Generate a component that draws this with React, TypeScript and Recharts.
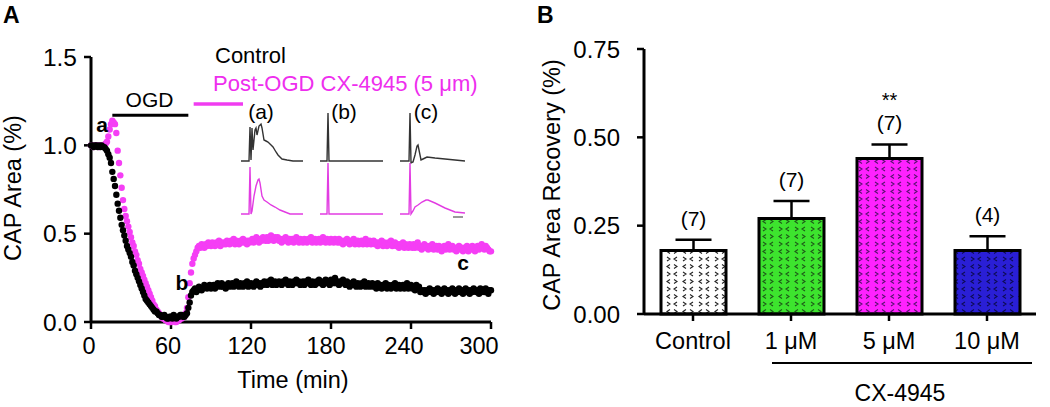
import React from 'react';
import {
  ScatterChart, Scatter, XAxis, YAxis, ReferenceLine,
  LineChart, Line, BarChart, Bar, ErrorBar, LabelList, Cell,
} from 'recharts';

const FONT = '"Liberation Sans", Arial, Helvetica, sans-serif';

// ---------- Panel A: CAP area time course (sampled every 1 min, 0..300) ----------
const SAMPLE_STEP_MIN = 1;
const CONTROL_CAP = [
  1.00, 1.00, 0.99, 1.00, 1.00, 0.99, 1.00, 0.99, 1.00, 0.99,
  0.99, 0.98, 0.97, 0.95, 0.93, 0.90, 0.85, 0.81, 0.77, 0.72,
  0.67, 0.63, 0.59, 0.55, 0.52, 0.49, 0.46, 0.43, 0.41, 0.39,
  0.37, 0.34, 0.32, 0.29, 0.27, 0.25, 0.23, 0.21, 0.19, 0.17,
  0.15, 0.13, 0.12, 0.11, 0.10, 0.09, 0.08, 0.07, 0.06, 0.06,
  0.05, 0.04, 0.04, 0.03, 0.03, 0.04, 0.03, 0.02, 0.02, 0.03,
  0.03, 0.02, 0.04, 0.03, 0.02, 0.03, 0.03, 0.04, 0.04, 0.03,
  0.03, 0.04, 0.05, 0.08, 0.11, 0.15, 0.17, 0.18, 0.19, 0.17,
  0.18, 0.20, 0.19, 0.18, 0.19, 0.21, 0.20, 0.19, 0.20, 0.21,
  0.19, 0.20, 0.21, 0.19, 0.20, 0.22, 0.21, 0.20, 0.22, 0.20,
  0.21, 0.19, 0.21, 0.22, 0.20, 0.21, 0.22, 0.20, 0.21, 0.23,
  0.21, 0.20, 0.22, 0.21, 0.20, 0.22, 0.21, 0.23, 0.20, 0.21,
  0.22, 0.21, 0.20, 0.22, 0.23, 0.21, 0.22, 0.20, 0.22, 0.21,
  0.23, 0.22, 0.21, 0.23, 0.22, 0.24, 0.21, 0.22, 0.23, 0.21,
  0.22, 0.23, 0.22, 0.21, 0.23, 0.22, 0.24, 0.22, 0.21, 0.23,
  0.22, 0.21, 0.23, 0.22, 0.24, 0.22, 0.23, 0.21, 0.22, 0.23,
  0.21, 0.23, 0.22, 0.24, 0.22, 0.21, 0.23, 0.22, 0.21, 0.23,
  0.22, 0.24, 0.22, 0.23, 0.21, 0.22, 0.24, 0.22, 0.23, 0.21,
  0.24, 0.23, 0.22, 0.25, 0.22, 0.23, 0.21, 0.23, 0.22, 0.24,
  0.22, 0.21, 0.23, 0.22, 0.20, 0.22, 0.21, 0.23, 0.21, 0.20,
  0.22, 0.21, 0.20, 0.22, 0.21, 0.23, 0.20, 0.21, 0.22, 0.20,
  0.21, 0.22, 0.20, 0.21, 0.19, 0.22, 0.20, 0.21, 0.19, 0.21,
  0.20, 0.22, 0.19, 0.21, 0.20, 0.19, 0.21, 0.20, 0.22, 0.19,
  0.20, 0.21, 0.19, 0.20, 0.21, 0.19, 0.20, 0.22, 0.19, 0.20,
  0.21, 0.19, 0.20, 0.18, 0.21, 0.19, 0.20, 0.17, 0.18, 0.17,
  0.18, 0.16, 0.18, 0.17, 0.19, 0.17, 0.18, 0.16, 0.18, 0.17,
  0.19, 0.17, 0.18, 0.16, 0.18, 0.19, 0.17, 0.18, 0.16, 0.18,
  0.17, 0.19, 0.18, 0.16, 0.18, 0.17, 0.19, 0.17, 0.18, 0.16,
  0.18, 0.19, 0.17, 0.18, 0.16, 0.18, 0.17, 0.19, 0.18, 0.17,
  0.18, 0.16, 0.19, 0.17, 0.18, 0.17, 0.19, 0.18, 0.16, 0.18,
  0.18,
];
const CX4945_CAP = [
  1.00, 1.00, 0.99, 1.00, 1.00, 1.00, 0.99, 1.00, 1.00, 1.00,
  1.00, 1.01, 1.02, 1.05, 1.09, 1.12, 1.14, 1.13, 1.12, 1.07,
  0.97, 0.90, 0.83, 0.76, 0.69, 0.64, 0.60, 0.57, 0.54, 0.51,
  0.48, 0.45, 0.43, 0.40, 0.38, 0.35, 0.33, 0.30, 0.28, 0.26,
  0.24, 0.22, 0.20, 0.18, 0.16, 0.14, 0.12, 0.10, 0.09, 0.07,
  0.06, 0.05, 0.04, 0.03, 0.02, 0.02, 0.01, 0.01, 0.00, 0.00,
  0.00, 0.01, 0.01, 0.00, 0.00, 0.01, 0.01, 0.02, 0.02, 0.03,
  0.03, 0.05, 0.08, 0.14, 0.22, 0.28, 0.33, 0.36, 0.38, 0.40,
  0.42, 0.43, 0.42, 0.44, 0.43, 0.42, 0.44, 0.43, 0.45, 0.44,
  0.43, 0.45, 0.44, 0.43, 0.45, 0.44, 0.46, 0.43, 0.45, 0.44,
  0.45, 0.44, 0.46, 0.45, 0.44, 0.46, 0.45, 0.47, 0.44, 0.46,
  0.45, 0.44, 0.46, 0.45, 0.47, 0.45, 0.46, 0.44, 0.46, 0.45,
  0.46, 0.47, 0.45, 0.46, 0.48, 0.46, 0.45, 0.47, 0.46, 0.48,
  0.47, 0.46, 0.48, 0.46, 0.47, 0.49, 0.47, 0.46, 0.48, 0.47,
  0.48, 0.46, 0.47, 0.45, 0.47, 0.46, 0.48, 0.46, 0.45, 0.47,
  0.46, 0.47, 0.45, 0.46, 0.48, 0.46, 0.45, 0.47, 0.46, 0.45,
  0.47, 0.46, 0.45, 0.47, 0.46, 0.48, 0.45, 0.46, 0.47, 0.45,
  0.46, 0.47, 0.45, 0.46, 0.48, 0.46, 0.45, 0.47, 0.46, 0.45,
  0.47, 0.46, 0.45, 0.47, 0.46, 0.45, 0.47, 0.45, 0.46, 0.44,
  0.46, 0.45, 0.47, 0.45, 0.44, 0.46, 0.45, 0.47, 0.44, 0.45,
  0.46, 0.44, 0.45, 0.46, 0.44, 0.45, 0.47, 0.44, 0.45, 0.46,
  0.44, 0.45, 0.46, 0.44, 0.45, 0.43, 0.45, 0.44, 0.46, 0.43,
  0.45, 0.44, 0.43, 0.45, 0.44, 0.46, 0.43, 0.44, 0.45, 0.43,
  0.44, 0.42, 0.44, 0.43, 0.45, 0.42, 0.44, 0.43, 0.42, 0.44,
  0.43, 0.42, 0.44, 0.42, 0.43, 0.45, 0.42, 0.43, 0.41, 0.43,
  0.44, 0.42, 0.43, 0.41, 0.43, 0.42, 0.44, 0.41, 0.42, 0.43,
  0.41, 0.43, 0.42, 0.40, 0.42, 0.43, 0.41, 0.42, 0.44, 0.41,
  0.42, 0.43, 0.41, 0.42, 0.40, 0.42, 0.43, 0.41, 0.42, 0.40,
  0.42, 0.41, 0.43, 0.40, 0.42, 0.41, 0.43, 0.42, 0.40, 0.42,
  0.43, 0.41, 0.42, 0.44, 0.42, 0.41, 0.43, 0.42, 0.41, 0.40,
  0.40,
];
const A_X_TICKS = [0, 60, 120, 180, 240, 300];
const A_Y_TICKS = [0, 0.5, 1.0, 1.5];
const OGD_PERIOD = [16, 73];
const OGD_BAR_LEVEL = 1.17;
const DRUG_PERIOD = [77, 114];
const DRUG_BAR_LEVEL = 1.234;

// ---------- Inset CAP traces (time offset, amplitude) ----------
const TRACE_A_CTRL_T = [0, 7, 8, 9, 10, 11, 12, 14, 15, 16, 18, 20, 21, 23, 25, 27, 29, 32, 35, 37, 41, 46, 52, 62];
const TRACE_A_CTRL_V = [0, 0, 0, 34, 1, 33, 11, 31, 33, 26, 35, 37, 33, 21, 20, 19, 17, 14, 9, 6, 2, 1, 0, 0];
const TRACE_A_CX_T = [0, 7, 8, 9, 10, 11, 13, 15, 17, 18, 19, 21, 23, 26, 30, 34, 39, 44, 49, 62];
const TRACE_A_CX_V = [0, 0, 0, 47, 0, 3, 18, 28, 34, 35, 31, 18, 14, 12, 9, 7, 4, 2, 0, 0];
const TRACE_B_CTRL_T = [0, 7, 8, 9, 63];
const TRACE_B_CTRL_V = [0, 0, 48, 0, 0];
const TRACE_B_CX_T = [0, 7, 8, 9, 63];
const TRACE_B_CX_V = [0, 0, 51, 0, 0];
const TRACE_C_CTRL_T = [0, 9, 10, 11, 13, 15, 17, 18, 19, 21, 23, 27, 35, 45, 55, 65];
const TRACE_C_CTRL_V = [0, 0, 48, -2, -1, 6, 15, 16, 11, 1, 2, 4, 3, 2, 1, 0];
const TRACE_C_CX_T = [0, 9, 10, 11, 13, 15, 18, 22, 26, 28, 35, 45, 55, 65];
const TRACE_C_CX_V = [0, 0, 51, 0, 3, 7, 9, 12, 14, 14, 11, 6, 2, 1];

// ---------- Panel B: recovery bars ----------
const B_CATEGORIES = ['Control', '1 \u03bcM', '5 \u03bcM', '10 \u03bcM'];
const B_MEANS = [0.18, 0.27, 0.44, 0.18];
const B_SEM = [0.03, 0.05, 0.04, 0.04];
const B_N = ['(7)', '(7)', '(7)', '(4)'];
const B_SIG = ['', '', '**', ''];
const B_Y_TICKS = [0, 0.25, 0.5, 0.75];
const B_FILLS = ['#ffffff', '#3de42e', '#ff22ff', '#2a1fd6'];
const B_INKS = ['#222222', '#1d5a18', '#5a1070', '#0c0a55'];

const ctrlData = CONTROL_CAP.map((v, i) => ({ t: i * SAMPLE_STEP_MIN, v }));
const cxData = CX4945_CAP.map((v, i) => ({ t: i * SAMPLE_STEP_MIN, v }));
const toTrace = (ts: number[], vs: number[]) => ts.map((t, i) => ({ t, v: vs[i] }));
const barData = B_CATEGORIES.map((name, i) => ({
  name, mean: B_MEANS[i], err: [0, B_SEM[i]], sem: B_SEM[i], n: B_N[i], sig: B_SIG[i],
}));

const A_TICK_DX = [-2, -3, -4, -5, -7, -12];
const ATick = (props: any) => {
  const { x, y, payload, index } = props;
  return (
    <text x={x + (A_TICK_DX[index] ?? 0)} y={y} dy="0.71em" textAnchor="middle"
      fontFamily={FONT} fontSize={23.5} fill="#000">{payload.value}</text>
  );
};

const dotShape = (color: string) => (p: any) => (
  <circle cx={p.cx} cy={p.cy} r={3.2} fill={color} />
);

const axisLine = { stroke: '#000', strokeWidth: 3 };
const tickLine = { stroke: '#000', strokeWidth: 2.5 };

function Trace({ left, width, ctrl, cx, scale }: any) {
  return (
    <div style={{ position: 'absolute', left, top: 108, width, height: 110 }}>
      <LineChart width={width} height={110} margin={{ top: 0, right: 0, bottom: 0, left: 0 }}>
        <XAxis type="number" dataKey="t" domain={[0, width]} hide />
        <YAxis yAxisId="k" type="number" domain={[-57, 53]} hide />
        <YAxis yAxisId="m" type="number" domain={[-4, 106]} hide />
        <Line yAxisId="k" data={ctrl} dataKey="v" stroke="#333" strokeWidth={1.4} dot={false} isAnimationActive={false} />
        <Line yAxisId="m" data={cx} dataKey="v" stroke="#e23ce2" strokeWidth={1.4} dot={false} isAnimationActive={false} />
        {scale ? (
          <ReferenceLine yAxisId="m" segment={[{ x: 53, y: -3 }, { x: 63, y: -3 }]} stroke="#999" strokeWidth={2} />
        ) : null}
      </LineChart>
    </div>
  );
}

const renderN = (props: any) => {
  const { x, y, width, height, index } = props;
  const d = barData[index];
  const pxPerUnit = height / d.mean;
  const errTop = y - d.sem * pxPerUnit;
  const cx = x + width / 2;
  return (
    <g>
      <text x={cx} y={errTop - 14} textAnchor="middle" fontFamily={FONT} fontSize={21} fill="#000">{d.n}</text>
      {d.sig ? (
        <text x={cx} y={errTop - 37} textAnchor="middle" fontFamily={FONT} fontSize={20} fill="#000">{d.sig}</text>
      ) : null}
    </g>
  );
};

export default function App() {
  return (
    <div style={{ position: 'absolute', left: 0, top: 0, width: 1050, height: 407, background: '#fff', overflow: 'hidden' }}>
      {/* Panel A */}
      <div style={{ position: 'absolute', left: 0, top: 0 }}>
        <ScatterChart width={520} height={407} margin={{ top: 57, right: 29, bottom: 45, left: 31 }}>
          <XAxis type="number" dataKey="t" domain={[0, 300]} ticks={A_X_TICKS} interval={0}
            axisLine={axisLine} tickLine={tickLine} tickSize={7} tickMargin={8} height={40}
            tick={<ATick />} />
          <YAxis type="number" dataKey="v" domain={[0, 1.5]} ticks={A_Y_TICKS} interval={0} width={60}
            axisLine={axisLine} tickLine={tickLine} tickSize={7} tickMargin={7}
            tickFormatter={(v: number) => v.toFixed(1)}
            tick={{ fontFamily: FONT, fontSize: 24.5, fill: '#000' }} />
          <Scatter data={cxData} fill="#f53ef5" shape={dotShape('#f53ef5')} isAnimationActive={false} />
          <Scatter data={ctrlData} fill="#000" shape={dotShape('#000')} isAnimationActive={false} />
          <ReferenceLine segment={[{ x: OGD_PERIOD[0], y: OGD_BAR_LEVEL }, { x: OGD_PERIOD[1], y: OGD_BAR_LEVEL }]}
            stroke="#000" strokeWidth={3} />
          <ReferenceLine segment={[{ x: DRUG_PERIOD[0], y: DRUG_BAR_LEVEL }, { x: DRUG_PERIOD[1], y: DRUG_BAR_LEVEL }]}
            stroke="#f03cf0" strokeWidth={3.5} />
        </ScatterChart>
      </div>

      <Trace left={241} width={62} ctrl={toTrace(TRACE_A_CTRL_T, TRACE_A_CTRL_V)} cx={toTrace(TRACE_A_CX_T, TRACE_A_CX_V)} />
      <Trace left={320} width={63} ctrl={toTrace(TRACE_B_CTRL_T, TRACE_B_CTRL_V)} cx={toTrace(TRACE_B_CX_T, TRACE_B_CX_V)} />
      <Trace left={400} width={65} ctrl={toTrace(TRACE_C_CTRL_T, TRACE_C_CTRL_V)} cx={toTrace(TRACE_C_CX_T, TRACE_C_CX_V)} scale />

      {/* Panel B */}
      <div style={{ position: 'absolute', left: 520, top: 0 }}>
        <BarChart width={530} height={407} data={barData} margin={{ top: 49, right: 14, bottom: 53, left: 64 }} barSize={65}>
          <defs>
            {B_FILLS.map((c, i) => (
              <pattern key={i} id={`chev${i}`} width={16} height={15} patternUnits="userSpaceOnUse">
                <rect width={16} height={15} fill={c} />
                <path d="M3 2 L6 4 L3 6 M13 2 L10 4 L13 6 M6 9.5 L3 11.5 L6 13.5 M10 9.5 L13 11.5 L10 13.5"
                  stroke={B_INKS[i]} strokeWidth={1.1} fill="none" />
              </pattern>
            ))}
          </defs>
          <XAxis dataKey="name" axisLine={axisLine} tickLine={tickLine} tickSize={7} tickMargin={11} height={40}
            interval={0} tick={{ fontFamily: FONT, fontSize: 23.5, fill: '#000' }} />
          <YAxis type="number" domain={[0, 0.75]} ticks={B_Y_TICKS} interval={0} width={60}
            axisLine={axisLine} tickLine={tickLine} tickSize={7} tickMargin={17}
            tickFormatter={(v: number) => v.toFixed(2)}
            tick={{ fontFamily: FONT, fontSize: 24, fill: '#000' }} />
          <Bar dataKey="mean" stroke="#000" strokeWidth={3} isAnimationActive={false}>
            {barData.map((d, i) => <Cell key={d.name} fill={`url(#chev${i})`} />)}
            <ErrorBar dataKey="err" direction="y" width={18} stroke="#000" strokeWidth={2.5} />
            <LabelList dataKey="n" content={renderN} />
          </Bar>
        </BarChart>
      </div>

      {/* Annotations */}
      <svg width={1050} height={407} style={{ position: 'absolute', left: 0, top: 0, pointerEvents: 'none' }}
        fontFamily={FONT}>
        <text x={3} y={23} fontSize={23} fontWeight="bold">A</text>
        <text x={537} y={23} fontSize={23} fontWeight="bold">B</text>
        <text x={215} y={63} fontSize={22} fill="#000">Control</text>
        <text x={213} y={91} fontSize={22} fill="#ee2eee">Post-OGD CX-4945 (5 {'\u03bc'}m)</text>
        <text x={149.5} y={107} fontSize={21} textAnchor="middle">OGD</text>
        <text x={261} y={119} fontSize={21} textAnchor="middle">(a)</text>
        <text x={344} y={119} fontSize={21} textAnchor="middle">(b)</text>
        <text x={426} y={119} fontSize={21} textAnchor="middle">(c)</text>
        <text x={102} y={132} fontSize={21} fontWeight="bold" textAnchor="middle">a</text>
        <text x={182} y={290} fontSize={21} fontWeight="bold" textAnchor="middle">b</text>
        <text x={463} y={270} fontSize={21} fontWeight="bold" textAnchor="middle">c</text>
        <text x={293} y={388} fontSize={23.5} textAnchor="middle">Time (min)</text>
        <text transform="translate(21,188) rotate(-90)" fontSize={23.5} textAnchor="middle">CAP Area (%)</text>
        <text transform="translate(560,185) rotate(-90)" fontSize={23.5} textAnchor="middle">CAP Area Recovery (%)</text>
        <line x1={772} y1={363} x2={1032} y2={363} stroke="#000" strokeWidth={2} />
        <text x={900} y={401} fontSize={23} textAnchor="middle">CX-4945</text>
      </svg>
    </div>
  );
}
